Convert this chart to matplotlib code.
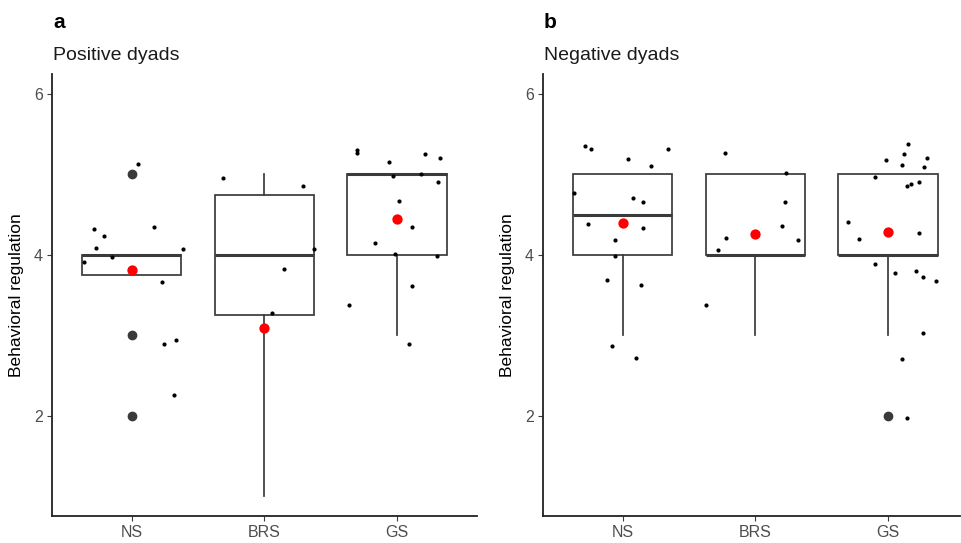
import matplotlib
matplotlib.use("Agg")
import matplotlib.pyplot as plt

plt.rcParams['font.family'] = ['Liberation Sans', 'DejaVu Sans']

categories = ["NS", "BRS", "GS"]
panel_letters = ["a", "b"]
panel_titles = ["Positive dyads", "Negative dyads"]
y_label = "Behavioral regulation"
y_ticks = [2, 4, 6]

# Box statistics per panel: (q1, median, q3, whisker low, whisker high)
pos_q1 = [3.75, 3.25, 4.0]
pos_med = [4.0, 4.0, 5.0]
pos_q3 = [4.0, 4.75, 5.0]
pos_wlo = [3.75, 1.0, 3.0]
pos_whi = [4.0, 5.0, 5.0]
pos_fliers = [[5.0, 3.0, 2.0], [], []]
pos_means = [3.81, 3.09, 4.45]

neg_q1 = [4.0, 4.0, 4.0]
neg_med = [4.5, 4.0, 4.0]
neg_q3 = [5.0, 5.0, 5.0]
neg_wlo = [3.0, 3.0, 3.0]
neg_whi = [5.0, 5.0, 5.0]
neg_fliers = [[], [], [2.0]]
neg_means = [4.40, 4.26, 4.29]

# Jittered observations: horizontal offset from category centre, value
pos_ns_dx = [0.045, -0.28, -0.21, 0.17, -0.27, 0.39, -0.15, -0.36, 0.23, 0.24, 0.33, 0.32]
pos_ns_y = [5.125, 4.32, 4.24, 4.35, 4.09, 4.07, 3.97, 3.91, 3.66, 2.89, 2.94, 2.25]
pos_brs_dx = [-0.31, 0.29, 0.37, 0.15, 0.06]
pos_brs_y = [4.95, 4.86, 4.07, 3.82, 3.27]
pos_gs_dx = [-0.30, -0.30, 0.21, 0.32, -0.06, -0.03, 0.18, 0.31, 0.015, 0.11, -0.17, -0.02, 0.30, 0.11, -0.36, 0.09]
pos_gs_y = [5.31, 5.27, 5.26, 5.21, 5.16, 4.98, 5.0, 4.91, 4.67, 4.35, 4.15, 4.01, 3.98, 3.61, 3.38, 2.89]

neg_ns_dx = [-0.28, -0.24, 0.34, 0.04, 0.21, -0.37, 0.08, 0.15, -0.26, 0.15, -0.06, -0.06, -0.12, 0.14, -0.08, 0.10]
neg_ns_y = [5.36, 5.32, 5.32, 5.19, 5.10, 4.77, 4.71, 4.66, 4.38, 4.33, 4.18, 3.98, 3.69, 3.62, 2.87, 2.71]
neg_brs_dx = [-0.23, 0.23, 0.22, 0.20, -0.22, 0.32, -0.28, -0.37]
neg_brs_y = [5.27, 5.02, 4.66, 4.36, 4.21, 4.19, 4.06, 3.37]
neg_gs_dx = [0.15, 0.12, 0.29, -0.02, 0.10, 0.27, -0.10, 0.23, 0.17, 0.14, -0.30, 0.23, -0.22,
             -0.10, 0.05, 0.21, 0.26, 0.36, 0.26, 0.10, 0.14]
neg_gs_y = [5.38, 5.25, 5.21, 5.18, 5.12, 5.09, 4.97, 4.91, 4.88, 4.86, 4.41, 4.27, 4.20,
            3.89, 3.77, 3.80, 3.73, 3.68, 3.03, 2.70, 1.97]

panels = [
    dict(q1=pos_q1, med=pos_med, q3=pos_q3, wlo=pos_wlo, whi=pos_whi, fliers=pos_fliers, means=pos_means,
         dx=[pos_ns_dx, pos_brs_dx, pos_gs_dx], ys=[pos_ns_y, pos_brs_y, pos_gs_y]),
    dict(q1=neg_q1, med=neg_med, q3=neg_q3, wlo=neg_wlo, whi=neg_whi, fliers=neg_fliers, means=neg_means,
         dx=[neg_ns_dx, neg_brs_dx, neg_gs_dx], ys=[neg_ns_y, neg_brs_y, neg_gs_y]),
]

W, H = 961, 543
fig = plt.figure(figsize=(W / 100, H / 100), dpi=100)

axes_px = [(52, 477), (543, 960)]
bottom_px, top_px = 516, 74
line_col = "#3a3a3a"

for i, (p, (lpx, rpx)) in enumerate(zip(panels, axes_px)):
    ax = fig.add_axes([lpx / W, 1 - bottom_px / H, (rpx - lpx) / W, (bottom_px - top_px) / H])
    pos = list(range(1, len(categories) + 1))
    stats = []
    for k in range(len(categories)):
        stats.append(dict(q1=p['q1'][k], med=p['med'][k], q3=p['q3'][k],
                          whislo=p['wlo'][k], whishi=p['whi'][k], fliers=p['fliers'][k]))
    ax.bxp(stats, positions=pos, widths=0.75, patch_artist=True, showcaps=False,
           boxprops=dict(facecolor="white", edgecolor=line_col, linewidth=1.25),
           medianprops=dict(color=line_col, linewidth=2.2, solid_capstyle='butt'),
           whiskerprops=dict(color=line_col, linewidth=1.25),
           flierprops=dict(marker='o', markerfacecolor=line_col, markeredgecolor=line_col,
                           markersize=6.0, linestyle='none'),
           zorder=2)
    for k in range(len(categories)):
        xs = [pos[k] + d for d in p['dx'][k]]
        ax.scatter(xs, p['ys'][k], s=9, color="black", zorder=3, linewidths=0)
    ax.scatter(pos, p['means'], s=55, color="#FF0000", zorder=4, linewidths=0)

    xmax = 0.4 + (rpx - lpx) / 132.8
    ax.set_xlim(0.4, xmax)
    ax.set_ylim(0.75, 6.25)
    ax.set_xticks(pos)
    ax.set_xticklabels(categories)
    ax.set_yticks(y_ticks)
    ax.set_yticklabels([str(t) for t in y_ticks])
    ax.tick_params(axis='both', colors=line_col, labelcolor="#4D4D4D", labelsize=11.5,
                   length=3.5, width=0.8, pad=3)
    for s in ['top', 'right']:
        ax.spines[s].set_visible(False)
    for s in ['left', 'bottom']:
        ax.spines[s].set_color("#222222")
        ax.spines[s].set_linewidth(1.3)
    ax.set_ylabel(y_label, fontsize=12.5, color="black", labelpad=7)

    fig.text((lpx + 1) / W, 1 - 22 / H, panel_letters[i], fontsize=15, fontweight='bold',
             ha='left', va='center', color='black')
    fig.text((lpx + 1) / W, 1 - 56 / H, panel_titles[i], fontsize=14, ha='left', va='center',
             color='#1a1a1a')

fig.savefig("out.png", dpi=100)
